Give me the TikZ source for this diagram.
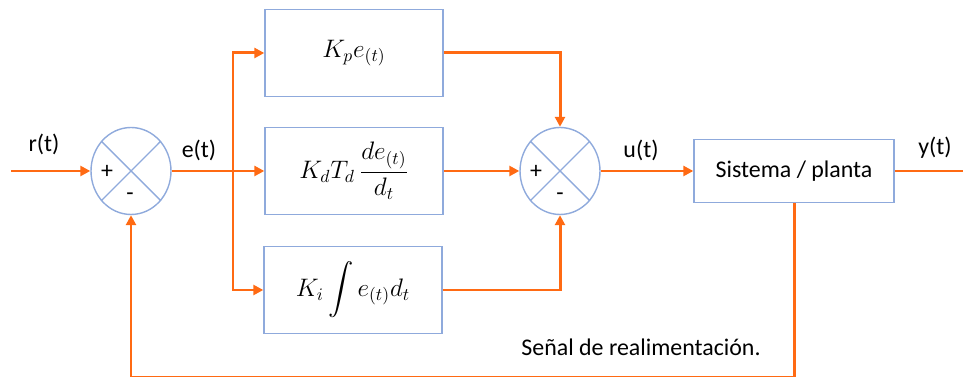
\documentclass[tikz,border=0pt]{standalone}
\usepackage{amsmath}
\usepackage{fontspec}
\setmainfont{Carlito}
\usetikzlibrary{arrows.meta,shapes.geometric}
\definecolor{sigorange}{RGB}{255,106,19}
\definecolor{boxblue}{RGB}{143,170,220}
\begin{document}
\begin{tikzpicture}[x=0.02cm,y=-0.02cm,>={Triangle[length=0.2cm,width=0.2cm]},
  blk/.style={draw=boxblue,line width=0.8pt,minimum width=3.56cm,minimum height=1.74cm,font=\fontsize{14.5}{17}\selectfont},
  sumnode/.style={ellipse,draw=boxblue,line width=0.8pt,minimum width=1.6cm,minimum height=1.74cm,inner sep=0pt},
  sig/.style={draw=sigorange,line width=1.7pt},
  lbl/.style={font=\fontsize{13.6}{16}\selectfont}]
\useasboundingbox (0,0) rectangle (963,377);

% summing points
\node[sumnode] (s1) at (131,171) {};
\node[sumnode] (s2) at (560,171) {};
\foreach \s in {s1,s2} {
  \draw[boxblue,line width=0.8pt] (\s.45) -- (\s.225);
  \draw[boxblue,line width=0.8pt] (\s.135) -- (\s.315);
}
\node[lbl] (p1) at (107,172) {+};
\node[lbl] (m1) at (130,197) {-};
\node[lbl] (p2) at (536,172) {+};
\node[lbl] (m2) at (560,197) {-};

% PID blocks
\node[blk] (kp) at (354,53) {$K_p e_{(t)}$};
\node[blk] (kd) at (354,171) {$K_d T_d\,\dfrac{de_{(t)}}{d_t}$};
\node[blk] (ki) at (353,290) {$K_i \displaystyle\int e_{(t)} d_t$};
\node[draw=boxblue,line width=0.8pt,minimum width=4cm,minimum height=1.26cm,lbl] (plant) at (794,171) {Sistema / planta};

% signal labels
\node[lbl] (rt) at (44,144) {r(t)};
\node[lbl] (et) at (199,150) {e(t)};
\node[lbl] (ut) at (641,150) {u(t)};
\node[lbl] (yt) at (935,148) {y(t)};
\node[lbl] (fbl) at (641,347) {Señal de realimentación.};

\coordinate (in) at (11,171);
\coordinate (br) at (233,171);
\coordinate (out) at (963,171);
\coordinate (fb) at (131,377.9);

\draw[sig,->] (in) -- (s1);
\draw[sig,->] (s1) -- (kd);
\draw[sig,->] (br) |- (kp);
\draw[sig,->] (br) |- (ki);
\draw[sig,->] (kp) -| (s2);
\draw[sig,->] (kd) -- (s2);
\draw[sig,->] (ki) -| (s2);
\draw[sig,->] (s2) -- (plant);
\draw[sig] (plant) -- (out);
\draw[sig,->] (plant.south) |- (fb) -- (s1.south);
\end{tikzpicture}
\end{document}
